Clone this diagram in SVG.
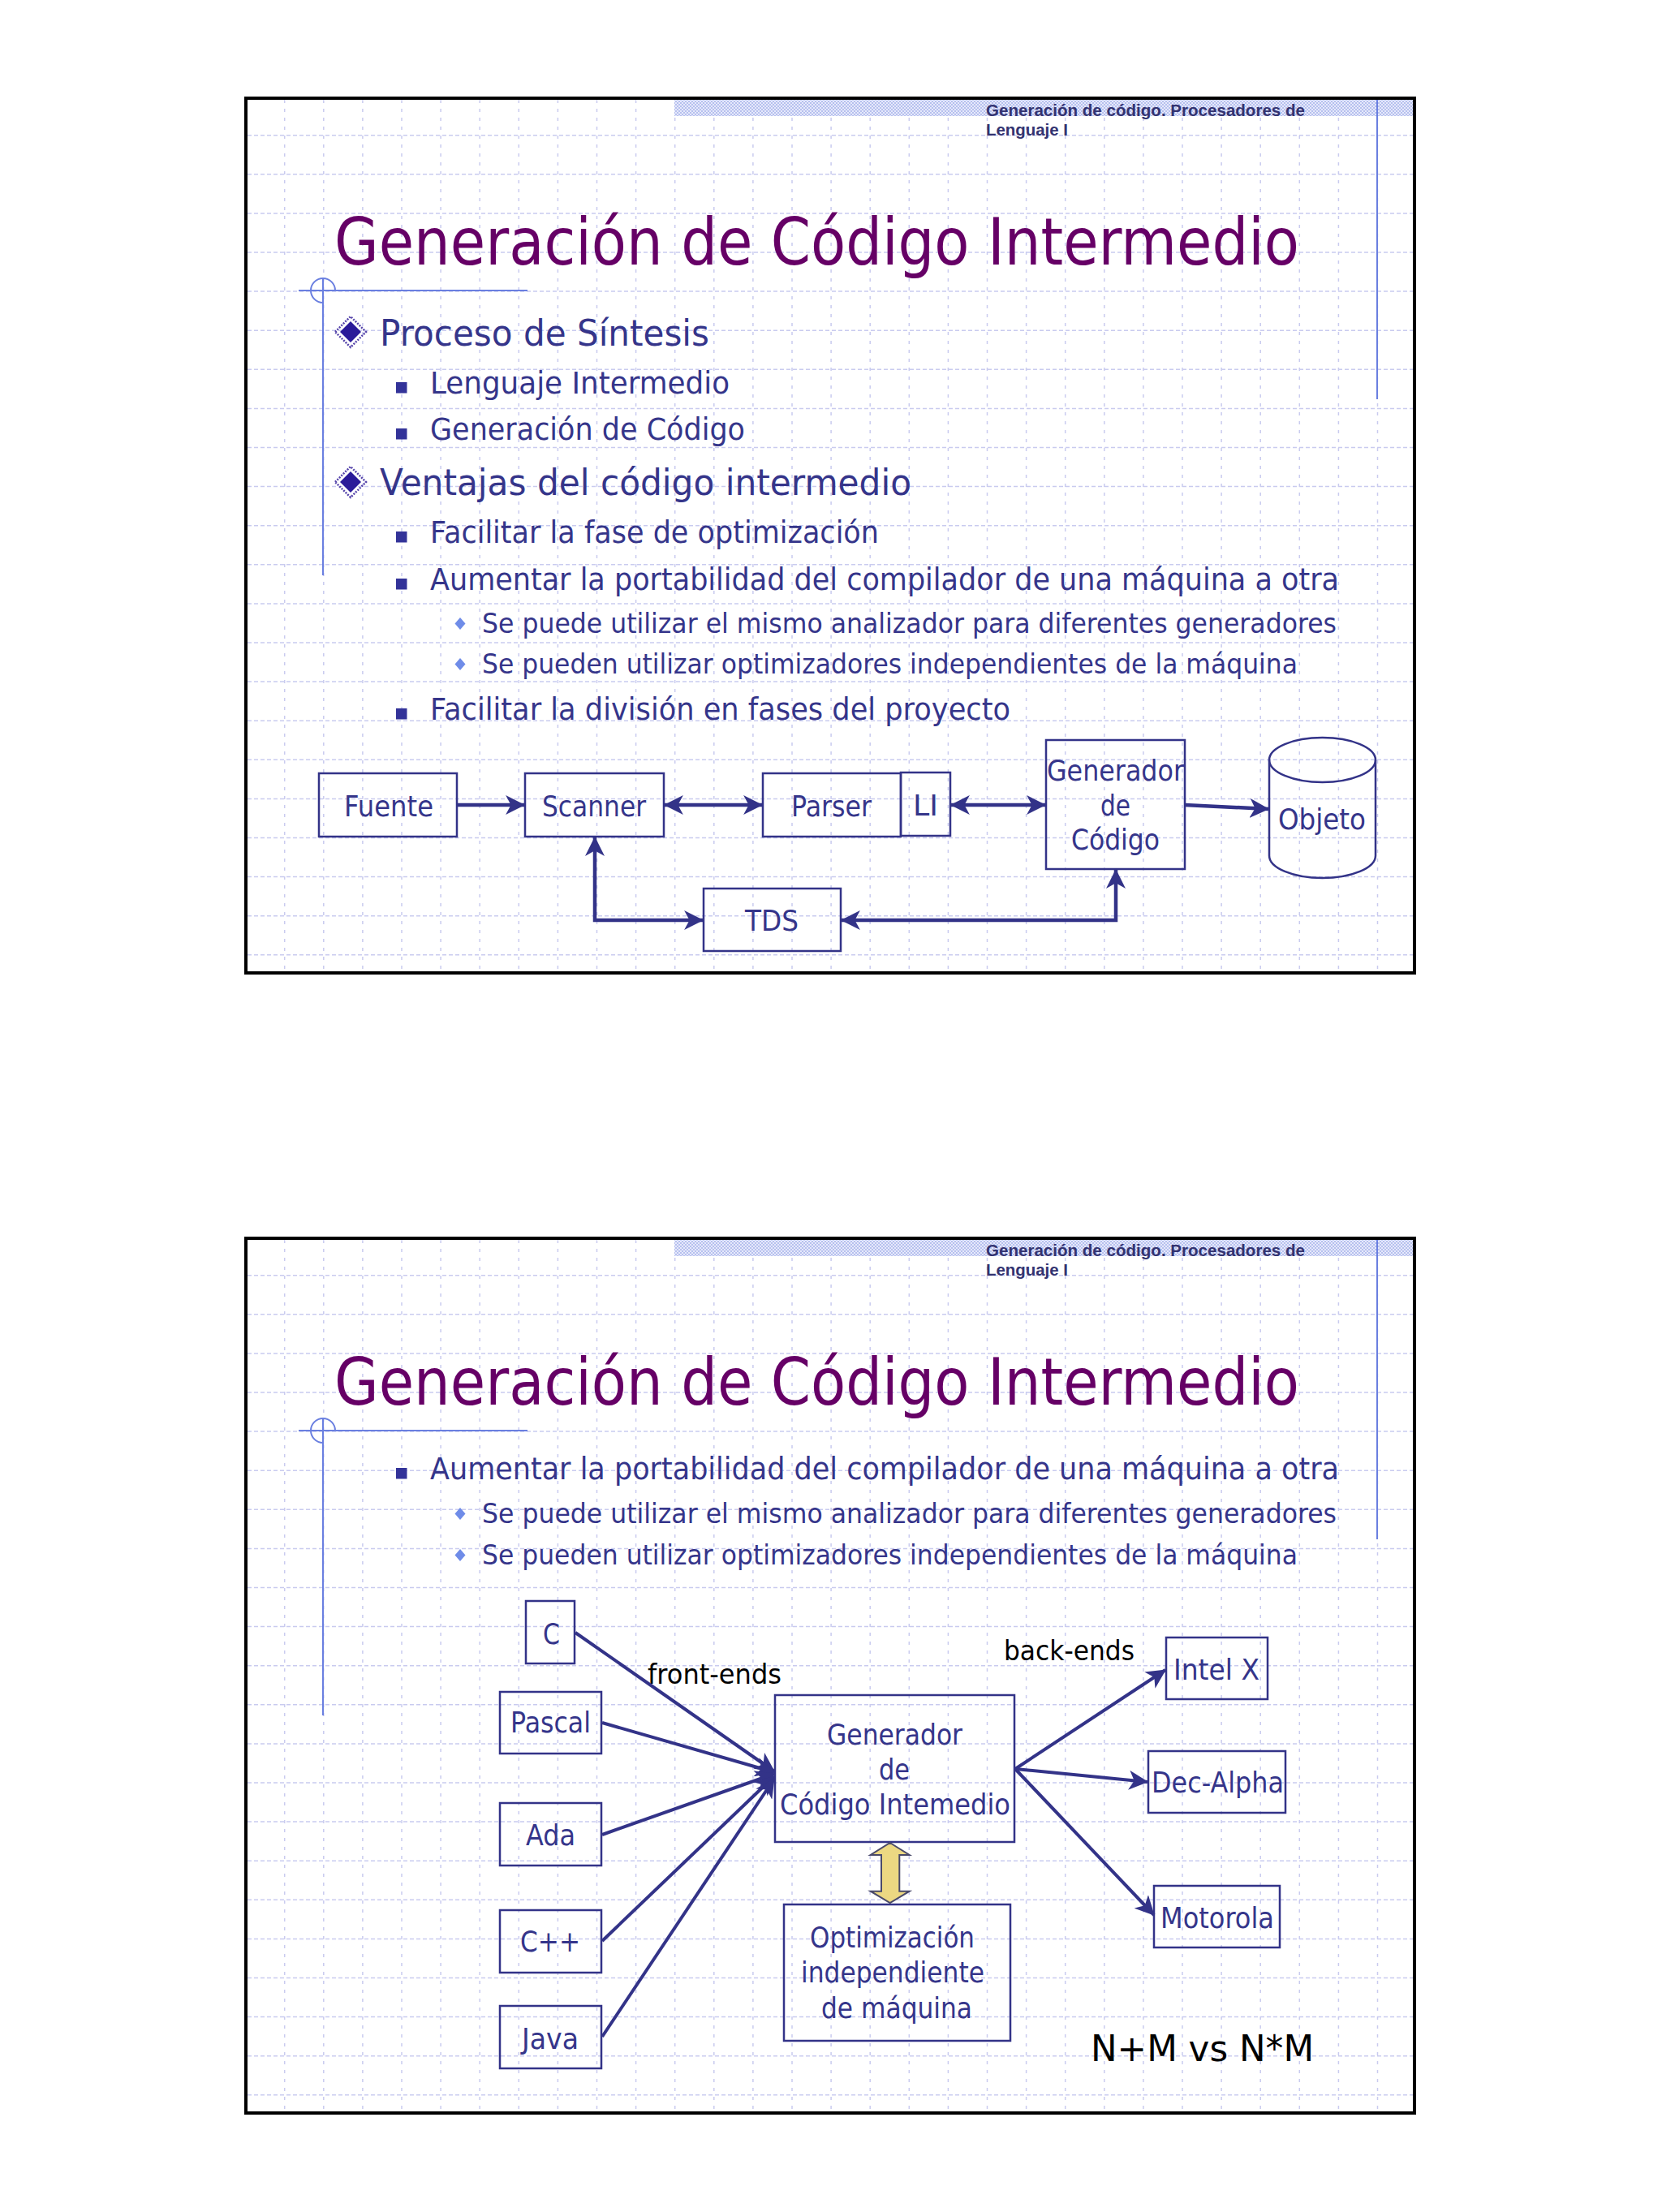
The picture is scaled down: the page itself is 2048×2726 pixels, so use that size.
<svg xmlns="http://www.w3.org/2000/svg" xmlns:xlink="http://www.w3.org/1999/xlink" width="2048" height="2726" viewBox="0 0 2048 2726">
<style>
.body{font-family:"DejaVu Sans","Liberation Sans",sans-serif;fill:#35358a}
.title{font-family:"DejaVu Sans","Liberation Sans",sans-serif;fill:#660066;font-size:81px}
.hdr{font-family:"Liberation Sans",Arial,sans-serif;font-weight:bold;fill:#333370;font-size:20px}
.lbl{font-family:"DejaVu Sans","Liberation Sans",sans-serif;fill:#35358a;font-size:36px}
.blk{font-family:"DejaVu Sans","Liberation Sans",sans-serif;fill:#000000}
.box{fill:none;stroke:#333388;stroke-width:2.5}
.con{fill:none;stroke:#333388;stroke-width:4.5}
.con2{fill:none;stroke:#333388;stroke-width:4}
.deco{stroke:#6a7fe0;stroke-width:2;fill:none}
.gv{stroke:#c9cbef;stroke-width:1.5;stroke-dasharray:4 7;fill:none}
.gh{stroke:#c9cbef;stroke-width:1.5;stroke-dasharray:5 3;fill:none}
</style>
<defs>
<pattern id="hatch" width="4" height="4" patternUnits="userSpaceOnUse">
<rect width="4" height="4" fill="#e6e9fb"/>
<rect x="0" y="0" width="2" height="2" fill="#b6c0ee"/>
<rect x="2" y="2" width="2" height="2" fill="#b6c0ee"/>
</pattern>
<marker id="ah" markerUnits="userSpaceOnUse" markerWidth="24" markerHeight="24" viewBox="0 0 22 22" refX="21" refY="11" orient="auto-start-reverse">
<path d="M0,0 L22,11 L0,22 L6,11 z" fill="#333388"/>
</marker>
<g id="bg">
<rect x="303" y="121" width="1440" height="1078" fill="#ffffff"/>
<path class="gv" d="M350.7,123V1197M398.8,123V1197M446.9,123V1197M495,123V1197M543.1,123V1197M591.2,123V1197M639.3,123V1197M687.4,123V1197M735.5,123V1197M783.6,123V1197M831.7,123V1197M879.8,123V1197M927.9,123V1197M976,123V1197M1024.1,123V1197M1072.2,123V1197M1120.3,123V1197M1168.4,123V1197M1216.5,123V1197M1264.6,123V1197M1312.7,123V1197M1360.8,123V1197M1408.9,123V1197M1457,123V1197M1505.1,123V1197M1553.2,123V1197M1601.3,123V1197M1649.4,123V1197M1697.5,123V1197"/>
<path class="gh" d="M305,166.7H1741M305,214.8H1741M305,262.9H1741M305,311H1741M305,359.1H1741M305,407.2H1741M305,455.3H1741M305,503.4H1741M305,551.5H1741M305,599.6H1741M305,647.7H1741M305,695.8H1741M305,743.9H1741M305,792H1741M305,840.1H1741M305,888.2H1741M305,936.3H1741M305,984.4H1741M305,1032.5H1741M305,1080.6H1741M305,1128.7H1741M305,1176.8H1741"/>
<rect x="831" y="122" width="910" height="21" fill="url(#hatch)"/>
<line class="deco" x1="1697" y1="121" x2="1697" y2="492"/>
<line class="deco" x1="368" y1="358" x2="650" y2="358"/>
<line class="deco" x1="398" y1="343" x2="398" y2="709"/>
<path class="deco" d="M413,358 A15,15 0 1,0 398,373"/>
<rect x="303" y="121" width="1440" height="1078" fill="none" stroke="#000000" stroke-width="4"/>
<text class="hdr" x="1215" y="143" textLength="393" lengthAdjust="spacingAndGlyphs">Generación de código. Procesadores de</text>
<text class="hdr" x="1215" y="167" textLength="101" lengthAdjust="spacingAndGlyphs">Lenguaje I</text>
</g>
</defs>
<rect width="2048" height="2726" fill="#ffffff"/>

<!-- Slide 1 -->
<g id="slide1">
<use href="#bg"/>
<text class="title" x="412" y="326" textLength="1189" lengthAdjust="spacingAndGlyphs">Generación de Código Intermedio</text>
<g id="s1-bullets">
<path d="M413,409 L432,390 L451,409 L432,428 z" fill="none" stroke="#5544aa" stroke-width="2.5" stroke-dasharray="2 1.5"/>
<path d="M419,409 L432,396 L445,409 L432,422 z" fill="#2a1a99"/>
<text class="body" x="468" y="426" font-size="45" textLength="406" lengthAdjust="spacingAndGlyphs">Proceso de Síntesis</text>
<rect x="488" y="471" width="13.5" height="13.5" fill="#333399"/>
<text class="body" x="530" y="485" font-size="37" textLength="369" lengthAdjust="spacingAndGlyphs">Lenguaje Intermedio</text>
<rect x="488" y="528" width="13.5" height="13.5" fill="#333399"/>
<text class="body" x="530" y="542" font-size="37" textLength="388" lengthAdjust="spacingAndGlyphs">Generación de Código</text>
<path d="M413,594 L432,575 L451,594 L432,613 z" fill="none" stroke="#5544aa" stroke-width="2.5" stroke-dasharray="2 1.5"/>
<path d="M419,594 L432,581 L445,594 L432,607 z" fill="#2a1a99"/>
<text class="body" x="468" y="610" font-size="45" textLength="655" lengthAdjust="spacingAndGlyphs">Ventajas del código intermedio</text>
<rect x="488" y="655" width="13.5" height="13.5" fill="#333399"/>
<text class="body" x="530" y="669" font-size="37" textLength="553" lengthAdjust="spacingAndGlyphs">Facilitar la fase de optimización</text>
<rect x="488" y="713" width="13.5" height="13.5" fill="#333399"/>
<text class="body" x="530" y="727" font-size="37" textLength="1120" lengthAdjust="spacingAndGlyphs">Aumentar la portabilidad del compilador de una máquina a otra</text>
<path d="M567,761 L573.5,768.5 L567,776 L560.5,768.5 z" fill="#6f8ce8"/>
<text class="body" x="594" y="780" font-size="34" textLength="1053" lengthAdjust="spacingAndGlyphs">Se puede utilizar el mismo analizador para diferentes generadores</text>
<path d="M567,811 L573.5,818.5 L567,826 L560.5,818.5 z" fill="#6f8ce8"/>
<text class="body" x="594" y="830" font-size="34" textLength="1005" lengthAdjust="spacingAndGlyphs">Se pueden utilizar optimizadores independientes de la máquina</text>
<rect x="488" y="873" width="13.5" height="13.5" fill="#333399"/>
<text class="body" x="530" y="887" font-size="37" textLength="715" lengthAdjust="spacingAndGlyphs">Facilitar la división en fases del proyecto</text>
</g>
<g id="fuente"><rect class="box" x="393" y="953" width="170" height="78"/><text class="lbl" x="424" y="1006" textLength="110" lengthAdjust="spacingAndGlyphs">Fuente</text></g>
<g id="scanner"><rect class="box" x="647" y="953" width="171" height="78"/><text class="lbl" x="668" y="1006" textLength="128" lengthAdjust="spacingAndGlyphs">Scanner</text></g>
<g id="parser"><rect class="box" x="940" y="953" width="170" height="78"/><text class="lbl" x="975" y="1006" textLength="99" lengthAdjust="spacingAndGlyphs">Parser</text></g>
<g id="li"><rect class="box" x="1110" y="952" width="61" height="78"/><text class="lbl" x="1125" y="1005" textLength="31" lengthAdjust="spacingAndGlyphs">LI</text></g>
<g id="generador"><rect class="box" x="1289" y="912" width="171" height="159"/>
<text class="lbl" x="1290" y="962" textLength="169" lengthAdjust="spacingAndGlyphs">Generador</text>
<text class="lbl" x="1356" y="1005" textLength="37" lengthAdjust="spacingAndGlyphs">de</text>
<text class="lbl" x="1320" y="1047" textLength="109" lengthAdjust="spacingAndGlyphs">Código</text></g>
<g id="objeto"><path class="box" d="M1564,936.5 L1564,1054.5 A65.5,27.5 0 0 0 1695,1054.5 L1695,936.5"/><ellipse class="box" cx="1629.5" cy="936.5" rx="65.5" ry="27.5"/>
<text class="lbl" x="1575" y="1022" textLength="108" lengthAdjust="spacingAndGlyphs">Objeto</text></g>
<g id="tds"><rect class="box" x="867" y="1095" width="169" height="77"/><text class="lbl" x="918" y="1147" textLength="66" lengthAdjust="spacingAndGlyphs">TDS</text></g>
<g id="s1-connectors">
<path class="con" d="M563,992 L646,992" marker-end="url(#ah)"/>
<path class="con" d="M819,992 L939,992" marker-start="url(#ah)" marker-end="url(#ah)"/>
<path class="con" d="M1172,992 L1288,992" marker-start="url(#ah)" marker-end="url(#ah)"/>
<path class="con" d="M1460,992 L1563,997" marker-end="url(#ah)"/>
<path class="con" d="M733,1032 L733,1134 L866,1134" marker-start="url(#ah)" marker-end="url(#ah)"/>
<path class="con" d="M1037,1134 L1375,1134 L1375,1072" marker-start="url(#ah)" marker-end="url(#ah)"/>
</g>
</g>

<!-- Slide 2 -->
<g id="slide2">
<use href="#bg" transform="translate(0,1405)"/>
<text class="title" x="412" y="1731" textLength="1189" lengthAdjust="spacingAndGlyphs">Generación de Código Intermedio</text>
<g id="s2-bullets">
<rect x="488" y="1809" width="13.5" height="13.5" fill="#333399"/>
<text class="body" x="530" y="1823" font-size="37" textLength="1120" lengthAdjust="spacingAndGlyphs">Aumentar la portabilidad del compilador de una máquina a otra</text>
<path d="M567,1858 L573.5,1865.5 L567,1873 L560.5,1865.5 z" fill="#6f8ce8"/>
<text class="body" x="594" y="1877" font-size="34" textLength="1053" lengthAdjust="spacingAndGlyphs">Se puede utilizar el mismo analizador para diferentes generadores</text>
<path d="M567,1909 L573.5,1916.5 L567,1924 L560.5,1916.5 z" fill="#6f8ce8"/>
<text class="body" x="594" y="1928" font-size="34" textLength="1005" lengthAdjust="spacingAndGlyphs">Se pueden utilizar optimizadores independientes de la máquina</text>
</g>
<g id="n-c"><rect class="box" x="648" y="1973" width="60" height="77"/><text class="lbl" x="669" y="2026" textLength="21" lengthAdjust="spacingAndGlyphs">C</text></g>
<g id="n-pascal"><rect class="box" x="616" y="2085" width="125" height="76"/><text class="lbl" x="629" y="2135" textLength="99" lengthAdjust="spacingAndGlyphs">Pascal</text></g>
<g id="n-ada"><rect class="box" x="616" y="2222" width="125" height="77"/><text class="lbl" x="648" y="2274" textLength="61" lengthAdjust="spacingAndGlyphs">Ada</text></g>
<g id="n-cpp"><rect class="box" x="616" y="2354" width="125" height="77"/><text class="lbl" x="641" y="2405" textLength="74" lengthAdjust="spacingAndGlyphs">C++</text></g>
<g id="n-java"><rect class="box" x="616" y="2472" width="125" height="77"/><text class="lbl" x="643" y="2525" textLength="70" lengthAdjust="spacingAndGlyphs">Java</text></g>
<g id="n-gen"><rect class="box" x="955" y="2089" width="295" height="181"/>
<text class="lbl" x="1019" y="2150" textLength="167" lengthAdjust="spacingAndGlyphs">Generador</text>
<text class="lbl" x="1083" y="2193" textLength="38" lengthAdjust="spacingAndGlyphs">de</text>
<text class="lbl" x="961" y="2236" textLength="284" lengthAdjust="spacingAndGlyphs">Código Intemedio</text></g>
<g id="n-opt"><rect class="box" x="966" y="2347" width="279" height="168"/>
<text class="lbl" x="998" y="2400" textLength="203" lengthAdjust="spacingAndGlyphs">Optimización</text>
<text class="lbl" x="987" y="2443" textLength="226" lengthAdjust="spacingAndGlyphs">independiente</text>
<text class="lbl" x="1012" y="2487" textLength="186" lengthAdjust="spacingAndGlyphs">de máquina</text></g>
<g id="n-intel"><rect class="box" x="1437" y="2018" width="125" height="76"/><text class="lbl" x="1446" y="2070" textLength="106" lengthAdjust="spacingAndGlyphs">Intel X</text></g>
<g id="n-dec"><rect class="box" x="1415" y="2158" width="169" height="76"/><text class="lbl" x="1419" y="2209" textLength="163" lengthAdjust="spacingAndGlyphs">Dec-Alpha</text></g>
<g id="n-moto"><rect class="box" x="1422" y="2324" width="155" height="76"/><text class="lbl" x="1430" y="2376" textLength="140" lengthAdjust="spacingAndGlyphs">Motorola</text></g>
<text class="blk" x="798" y="2075" font-size="34" textLength="165" lengthAdjust="spacingAndGlyphs">front-ends</text>
<text class="blk" x="1237" y="2046" font-size="34" textLength="161" lengthAdjust="spacingAndGlyphs">back-ends</text>
<text class="blk" x="1344" y="2540" font-size="45" textLength="275" lengthAdjust="spacingAndGlyphs">N+M vs N*M</text>
<g id="s2-connectors">
<path class="con2" d="M709,2012 L954,2183" marker-end="url(#ah)"/>
<path class="con2" d="M742,2123 L954,2184" stroke-width="5.5" marker-end="url(#ah)"/>
<path class="con2" d="M742,2261 L954,2186" marker-end="url(#ah)"/>
<path class="con2" d="M742,2392 L954,2189" marker-end="url(#ah)"/>
<path class="con2" d="M742,2510 L954,2192" marker-end="url(#ah)"/>
<path class="con2" d="M1251,2180 L1436,2058" marker-end="url(#ah)"/>
<path class="con2" d="M1251,2180 L1414,2196" stroke-width="5.5" marker-end="url(#ah)"/>
<path class="con2" d="M1251,2180 L1422,2360" marker-end="url(#ah)"/>
<path d="M1096.7,2271 L1120.7,2286 L1108.3,2286 L1108.3,2330.7 L1120.7,2330.7 L1096.7,2345 L1072.7,2330.7 L1086,2330.7 L1086,2286 L1072.7,2286 z" fill="#ecd882" stroke="#4a4a6a" stroke-width="2"/>
</g>
</g>
</svg>
